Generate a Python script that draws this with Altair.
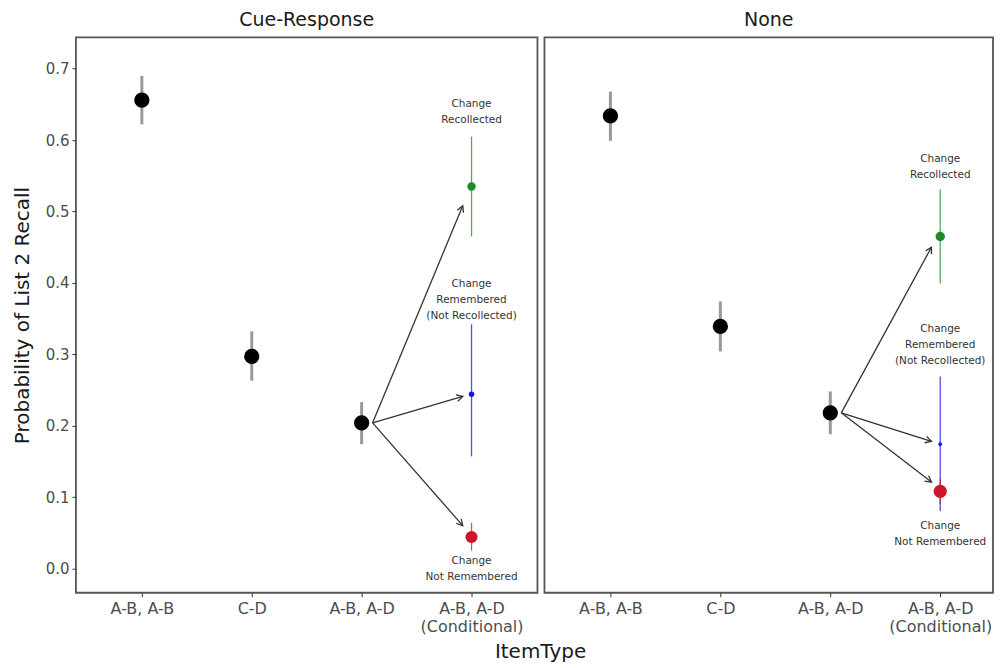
import json
import math
import altair as alt
import pandas as pd

FONT = "DejaVu Sans"

# ---------------- data ----------------
x_labels = ["A-B, A-B", "C-D", "A-B, A-D", "A-B, A-D\n(Conditional)"]
main_x = [1, 2, 3]
cond_x = 4

# Cue-Response panel
cue_mean = [0.656, 0.297, 0.204]
cue_lo = [0.622, 0.263, 0.174]
cue_hi = [0.690, 0.332, 0.233]
# None panel
none_mean = [0.634, 0.339, 0.218]
none_lo = [0.599, 0.304, 0.188]
none_hi = [0.668, 0.374, 0.248]

outcomes = ["Change\nRecollected", "Change\nRemembered\n(Not Recollected)", "Change\nNot Remembered"]
outcome_colors = ["#1f8b24", "#1414e6", "#d0142c"]

cue_cond_mean = [0.535, 0.244, 0.044]
cue_cond_lo = [0.465, 0.157, 0.025]
cue_cond_hi = [0.605, 0.342, 0.064]
cue_cond_prop = [0.30, 0.13, 0.62]
cue_label_y = [0.650, 0.398, 0.010]
cue_arrow_end_y = [0.508, 0.241, 0.060]

none_cond_mean = [0.465, 0.174, 0.108]
none_cond_lo = [0.399, 0.080, 0.090]
none_cond_hi = [0.531, 0.269, 0.126]
none_cond_prop = [0.38, 0.06, 0.75]
none_label_y = [0.574, 0.335, 0.059]
none_arrow_end_y = [0.450, 0.178, 0.121]

arrow_start_x = 3.1
arrow_end_x = 3.92

# ---------------- layout ----------------
Y_DOMAIN = [-0.034, 0.744]
PANEL_H = 556
UNIT_W = 110
LEFT_DOMAIN = [0.4, 4.6]
RIGHT_DOMAIN = [0.4, 4.48]
LEFT_W = round((LEFT_DOMAIN[1] - LEFT_DOMAIN[0]) * UNIT_W)
RIGHT_W = round((RIGHT_DOMAIN[1] - RIGHT_DOMAIN[0]) * UNIT_W)
PX_PER_Y = PANEL_H / (Y_DOMAIN[1] - Y_DOMAIN[0])

label_expr = json.dumps([l.split("\n") for l in x_labels]) + "[round(datum.value) - 1]"

ARROW_PATH = "M -1 -0.55 L 0 0 L -1 0.55"


def panel(title, mean, lo, hi, c_mean, c_lo, c_hi, c_prop, lab_y, end_y, width, xdom, show_y):
    main = pd.DataFrame({"x": main_x, "mean": mean, "lo": lo, "hi": hi, "prop": [1.0] * 3})
    cond = pd.DataFrame({
        "x": [cond_x] * 3, "mean": c_mean, "lo": c_lo, "hi": c_hi, "prop": c_prop,
        "color": outcome_colors, "label": outcomes, "label_y": lab_y,
    })
    start_y = mean[2]
    angles = []
    for ey in end_y:
        dx = (arrow_end_x - arrow_start_x) * UNIT_W
        dy = -(ey - start_y) * PX_PER_Y
        angles.append(math.degrees(math.atan2(dy, dx)) % 360)
    arrows = pd.DataFrame({
        "x": [arrow_start_x] * 3, "y": [start_y] * 3,
        "x2": [arrow_end_x] * 3, "y2": end_y, "angle": angles,
    })

    xscale = alt.Scale(domain=xdom, nice=False, zero=False)
    yscale = alt.Scale(domain=Y_DOMAIN, nice=False, zero=False)
    xaxis = alt.Axis(values=[1, 2, 3, 4], labelExpr=label_expr, title=None, grid=False,
                     domain=False, ticks=True, tickSize=4, tickColor="#333333",
                     labelFontSize=16, labelColor="#4d4d4d", labelLineHeight=17.5,
                     labelPadding=4, labelFont=FONT, labelAngle=0)
    if show_y:
        yaxis = alt.Axis(values=[0, 0.1, 0.2, 0.3, 0.4, 0.5, 0.6, 0.7], format=".1f",
                         title="Probability of List 2 Recall", grid=False, domain=False,
                         tickSize=4, tickColor="#333333", labelFontSize=15,
                         labelColor="#4d4d4d", labelPadding=3, labelFont=FONT,
                         titleFont=FONT, titleFontSize=20, titleFontWeight="normal",
                         titleColor="#1a1a1a", titlePadding=13)
    else:
        yaxis = None

    x_enc = alt.X("x:Q", scale=xscale, axis=xaxis)
    size_enc = alt.Size("prop:Q", scale=alt.Scale(domain=[0, 1], range=[0, 235]), legend=None)

    main_bars = alt.Chart(main).mark_rule(color="#999999", strokeWidth=3).encode(
        x=x_enc, y=alt.Y("lo:Q", scale=yscale, axis=yaxis), y2="hi:Q")
    main_pts = alt.Chart(main).mark_circle(color="black", opacity=1).encode(
        x="x:Q", y="mean:Q", size=size_enc)

    cond_bars = alt.Chart(cond).mark_rule(strokeWidth=1.3, opacity=0.75).encode(
        x="x:Q", y="lo:Q", y2="hi:Q", color=alt.Color("color:N", scale=None))
    cond_pts = alt.Chart(cond).mark_circle(opacity=1).encode(
        x="x:Q", y="mean:Q", size=size_enc, color=alt.Color("color:N", scale=None))
    cond_text = alt.Chart(cond).mark_text(fontSize=10.5, lineBreak="\n", lineHeight=16,
                                          color="#333333", font=FONT).encode(
        x="x:Q", y="label_y:Q", text="label:N")

    shafts = alt.Chart(arrows).mark_rule(color="#333333", strokeWidth=1.3).encode(
        x="x:Q", y="y:Q", x2="x2:Q", y2="y2:Q")
    heads = alt.Chart(arrows).mark_point(shape=ARROW_PATH, filled=False, color="#333333",
                                         strokeWidth=1.3, size=150, opacity=1).encode(
        x="x2:Q", y="y2:Q", angle=alt.Angle("angle:Q", scale=None))

    return alt.layer(main_bars, cond_bars, shafts, heads, main_pts, cond_pts, cond_text).properties(
        width=width, height=PANEL_H,
        title=alt.TitleParams(title, fontSize=19, fontWeight="normal", color="#1a1a1a",
                              font=FONT, anchor="middle", offset=7),
    ).resolve_scale(size="shared")


left = panel("Cue-Response", cue_mean, cue_lo, cue_hi, cue_cond_mean, cue_cond_lo, cue_cond_hi,
             cue_cond_prop, cue_label_y, cue_arrow_end_y, LEFT_W, LEFT_DOMAIN, True)
right = panel("None", none_mean, none_lo, none_hi, none_cond_mean, none_cond_lo, none_cond_hi,
              none_cond_prop, none_label_y, none_arrow_end_y, RIGHT_W, RIGHT_DOMAIN, False)

chart = alt.hconcat(left, right, spacing=5).resolve_scale(
    x="independent", y="independent", size="independent"
).properties(
    title=alt.TitleParams("ItemType", orient="bottom", anchor="middle", fontSize=20,
                          fontWeight="normal", color="#1a1a1a", font=FONT, offset=7, dx=38),
    padding={"left": 3, "top": 2, "right": 0, "bottom": 0},
).configure(
    font=FONT, background="white",
    view=alt.ViewConfig(stroke="#555555", strokeWidth=1.8),
)

chart.save("out.html", embed_options={"renderer": "svg", "actions": False})
